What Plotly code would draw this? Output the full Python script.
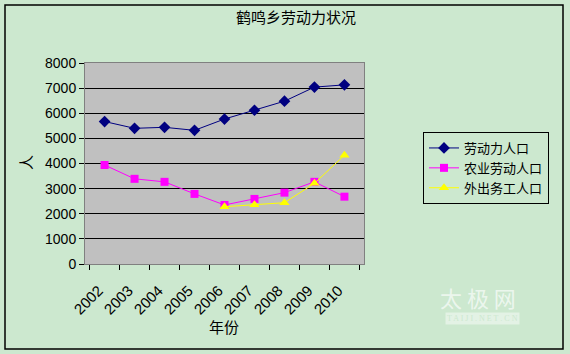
import plotly.graph_objects as go

years = ["2002", "2003", "2004", "2005", "2006", "2007", "2008", "2009", "2010"]
labor = [5670, 5400, 5440, 5320, 5770, 6120, 6480, 7040, 7130]
agri = [3940, 3390, 3270, 2790, 2350, 2590, 2840, 3270, 2680]
migrant = [None, None, None, None, 2280, 2360, 2440, 3210, 4330]
names = ["劳动力人口", "农业劳动人口", "外出务工人口"]

W, H = 570, 354
L, R, T, B = 85, 364, 63, 264
def px(x): return (x - L) / (R - L)
def py(y): return (B - y) / (B - T)

cjk = "Noto Sans CJK SC"
num = "Liberation Sans"
bg = "#CCE8CF"

fig = go.Figure()
fig.add_trace(go.Scatter(x=years, y=labor, name=names[0], mode="lines+markers",
                         line=dict(color="#000080", width=1),
                         marker=dict(symbol="diamond", size=9, color="#000080")))
fig.add_trace(go.Scatter(x=years, y=agri, name=names[1], mode="lines+markers",
                         line=dict(color="#FF00FF", width=1),
                         marker=dict(symbol="square", size=8, color="#FF00FF")))
fig.add_trace(go.Scatter(x=years, y=migrant, name=names[2], mode="lines+markers",
                         line=dict(color="#FFFF00", width=1),
                         marker=dict(symbol="triangle-up", size=9, color="#FFFF00")))

def ann(text, x, y, size=15, angle=0, color="black", family=cjk, **kw):
    return dict(text=text, xref="paper", yref="paper", x=px(x), y=py(y),
                xanchor="center", yanchor="middle", textangle=angle,
                showarrow=False, font=dict(family=family, size=size, color=color), **kw)

fig.update_layout(
    width=W, height=H,
    margin=dict(l=L, r=W - R, t=T, b=H - B),
    paper_bgcolor=bg, plot_bgcolor="#C0C0C0",
    showlegend=True,
    legend=dict(x=px(423), y=py(132), xanchor="left", yanchor="top",
                bgcolor=bg, bordercolor="black", borderwidth=1,
                font=dict(family=cjk, size=13, color="black"),
                tracegroupgap=0, itemwidth=30),
    xaxis=dict(type="category", tickson="boundaries", ticks="outside", ticklen=5,
               tickcolor="black", showgrid=False, tickangle=-45,
               ticklabelstandoff=11, ticklabelshift=-6,
               tickfont=dict(family=num, size=15, color="black"),
               showline=True, linecolor="#808080", mirror=True, zeroline=False),
    yaxis=dict(range=[0, 8000], dtick=1000, ticks="outside", ticklen=5,
               tickcolor="black", showgrid=True, gridcolor="black", gridwidth=1,
               tickfont=dict(family=num, size=14, color="black"),
               showline=True, linecolor="#808080", mirror=True, zeroline=False),
    shapes=[dict(type="rect", xref="paper", yref="paper",
                 x0=px(5), x1=px(563), y0=py(349), y1=py(5),
                 line=dict(color="black", width=1.5), layer="below")],
    annotations=[
        ann("鹤鸣乡劳动力状况", 296, 17),
        ann("人", 25, 163, angle=-90),
        ann("年份", 224, 326),
        ann("太 极 网", 478, 297, size=22, color="rgba(255,255,255,0.65)"),
        ann("T A I J I . N E T . C N", 482, 318, size=8, color="rgba(204,232,207,1)",
            family="Liberation Serif", bgcolor="rgba(255,255,255,0.45)"),
    ],
)

fig.write_html("out.html")
